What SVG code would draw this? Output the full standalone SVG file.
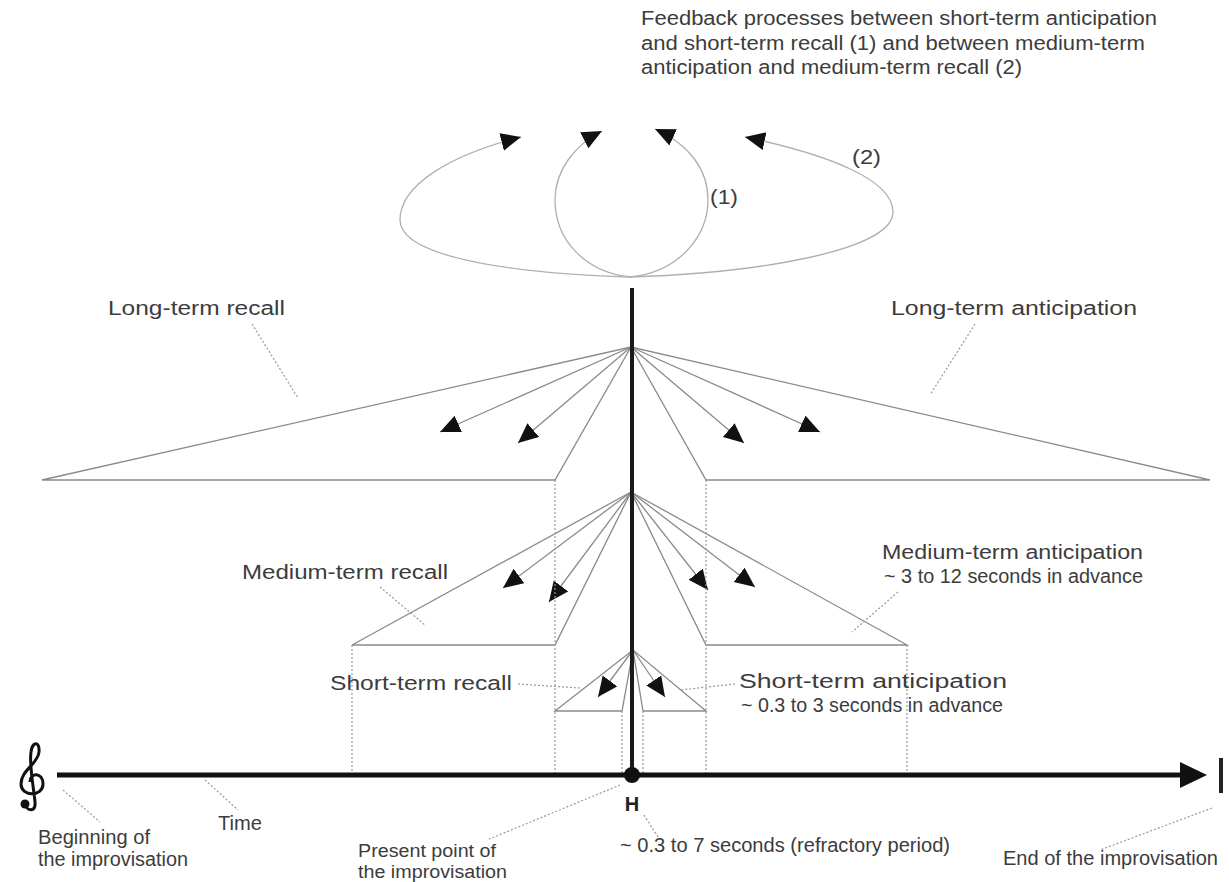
<svg xmlns="http://www.w3.org/2000/svg" width="1229" height="882" viewBox="0 0 1229 882">
<style>
text{font-family:"Liberation Sans",Arial,sans-serif;font-size:20px;fill:#3c3c3c;}
.fan{stroke:#8a8a8a;stroke-width:1.3;fill:none;}
.dot{stroke:#999;stroke-width:1.2;stroke-dasharray:2,2;fill:none;}
.ar{stroke:#8a8a8a;stroke-width:1.3;fill:none;marker-end:url(#ah);}
.la{stroke:#b0b0b0;stroke-width:1.3;fill:none;marker-end:url(#ah);}
</style>
<defs>
<marker id="ah" markerUnits="userSpaceOnUse" markerWidth="24" markerHeight="20" refX="20" refY="9" orient="auto" viewBox="0 0 24 20">
<path d="M0,0 L20,9 L0,18 Z" fill="#111"/>
</marker>
</defs>
<rect width="1229" height="882" fill="#fff"/>

<g id="title">
<text x="641" y="25" textLength="516" lengthAdjust="spacingAndGlyphs">Feedback processes between short-term anticipation</text>
<text x="641" y="50" textLength="504" lengthAdjust="spacingAndGlyphs">and short-term recall (1) and between medium-term</text>
<text x="641" y="74" textLength="381" lengthAdjust="spacingAndGlyphs">anticipation and medium-term recall (2)</text>
</g>

<g id="connectors">
<path class="la" d="M630,277 C500,273 400,255 400,220 C400,185 450,155 521,137"/>
<path class="la" d="M630,277 C760,273 893,250 893,212 C893,180 830,155 745,137"/>
<path class="la" d="M630,277 C585,272 555,240 555,200 C555,170 575,145 602,131"/>
<path class="la" d="M630,277 C680,272 708,235 708,200 C708,170 690,145 655,129"/>

<path class="fan" d="M42,480 L631,347 L555,480 Z"/>
<path class="fan" d="M1210,480 L631,347 L706,480 Z"/>
<line class="ar" x1="631" y1="347" x2="440" y2="432"/>
<line class="ar" x1="631" y1="347" x2="518" y2="443"/>
<line class="ar" x1="631" y1="347" x2="744" y2="443"/>
<line class="ar" x1="631" y1="347" x2="820" y2="432"/>

<path class="fan" d="M352,645 L631,492 L555,645 Z"/>
<path class="fan" d="M907,645 L631,492 L706,645 Z"/>
<line class="ar" x1="631" y1="492" x2="503" y2="588"/>
<line class="ar" x1="631" y1="492" x2="549" y2="602"/>
<line class="ar" x1="631" y1="492" x2="708" y2="590"/>
<line class="ar" x1="631" y1="492" x2="755" y2="587"/>

<path class="fan" d="M555,711 L633,650 L622,711 Z"/>
<path class="fan" d="M706,711 L633,650 L643,711 Z"/>
<line class="ar" x1="633" y1="650" x2="598" y2="697"/>
<line class="ar" x1="633" y1="650" x2="665" y2="697"/>

<line class="dot" x1="555" y1="480" x2="555" y2="775"/>
<line class="dot" x1="706" y1="480" x2="706" y2="775"/>
<line class="dot" x1="352" y1="645" x2="352" y2="775"/>
<line class="dot" x1="907" y1="645" x2="907" y2="775"/>
<line class="dot" x1="622" y1="711" x2="622" y2="775"/>
<line class="dot" x1="643" y1="711" x2="643" y2="775"/>

<line class="dot" x1="252" y1="324" x2="298" y2="398"/>
<line class="dot" x1="975" y1="324" x2="930" y2="395"/>
<line class="dot" x1="380" y1="587" x2="425" y2="625"/>
<line class="dot" x1="898" y1="592" x2="852" y2="632"/>
<line class="dot" x1="518" y1="684" x2="580" y2="688"/>
<line class="dot" x1="735" y1="684" x2="680" y2="690"/>

<line x1="632" y1="288" x2="632" y2="775" stroke="#1a1a1a" stroke-width="4"/>

<line x1="57" y1="775" x2="1183" y2="775" stroke="#111" stroke-width="5"/>
<path d="M1180,762 L1207,775 L1180,788 Z" fill="#111"/>
<line x1="1221" y1="758" x2="1221" y2="793" stroke="#222" stroke-width="4"/>
<circle cx="632" cy="775" r="8" fill="#111"/>

<line class="dot" x1="63" y1="790" x2="100" y2="822"/>
<line class="dot" x1="205" y1="780" x2="238" y2="810"/>
<line class="dot" x1="620" y1="785" x2="487" y2="840"/>
<line class="dot" x1="644" y1="815" x2="658" y2="837"/>
<line class="dot" x1="1212" y1="808" x2="1100" y2="850"/>
</g>

<g id="clef">
<circle cx="25" cy="804" r="4.5" fill="#111"/>
<path d="M25,804 C27,812 36,812 35,802 C34,790 29,765 31,752 C32,742 40,740 39,752 C38,764 21,770 21,784 C21,797 43,797 43,784 C43,772 30,772 30,782" fill="none" stroke="#111" stroke-width="3"/>
</g>

<g id="loop-labels">
<text x="710" y="204" textLength="28" lengthAdjust="spacingAndGlyphs">(1)</text>
<text x="852" y="164" textLength="29" lengthAdjust="spacingAndGlyphs">(2)</text>
</g>

<g id="long-recall"><text x="108" y="315" textLength="177" lengthAdjust="spacingAndGlyphs">Long-term recall</text></g>
<g id="long-anticipation"><text x="891" y="315" textLength="246" lengthAdjust="spacingAndGlyphs">Long-term anticipation</text></g>
<g id="medium-recall"><text x="242" y="579" textLength="206" lengthAdjust="spacingAndGlyphs">Medium-term recall</text></g>
<g id="medium-anticipation">
<text x="882" y="559" textLength="261" lengthAdjust="spacingAndGlyphs">Medium-term anticipation</text>
<text x="884" y="583" textLength="259" lengthAdjust="spacingAndGlyphs">~ 3 to 12 seconds in advance</text>
</g>
<g id="short-recall"><text x="330" y="690" textLength="182" lengthAdjust="spacingAndGlyphs">Short-term recall</text></g>
<g id="short-anticipation">
<text x="739" y="688" textLength="268" lengthAdjust="spacingAndGlyphs">Short-term anticipation</text>
<text x="741" y="712" textLength="262" lengthAdjust="spacingAndGlyphs">~ 0.3 to 3 seconds in advance</text>
</g>
<g id="present"><text x="632" y="811" text-anchor="middle" style="font-weight:bold;fill:#222;font-size:20px">H</text></g>
<g id="beginning">
<text x="38" y="844" textLength="112" lengthAdjust="spacingAndGlyphs">Beginning of</text>
<text x="38" y="866" textLength="150" lengthAdjust="spacingAndGlyphs">the improvisation</text>
</g>
<g id="time"><text x="218" y="830" textLength="44" lengthAdjust="spacingAndGlyphs">Time</text></g>
<g id="present-point">
<text x="358" y="857" textLength="138" lengthAdjust="spacingAndGlyphs" style="font-size:18px">Present point of</text>
<text x="358" y="878" textLength="149" lengthAdjust="spacingAndGlyphs" style="font-size:18px">the improvisation</text>
</g>
<g id="refractory"><text x="620" y="852" textLength="330" lengthAdjust="spacingAndGlyphs">~ 0.3 to 7 seconds (refractory period)</text></g>
<g id="end"><text x="1003" y="865" textLength="215" lengthAdjust="spacingAndGlyphs">End of the improvisation</text></g>
</svg>
